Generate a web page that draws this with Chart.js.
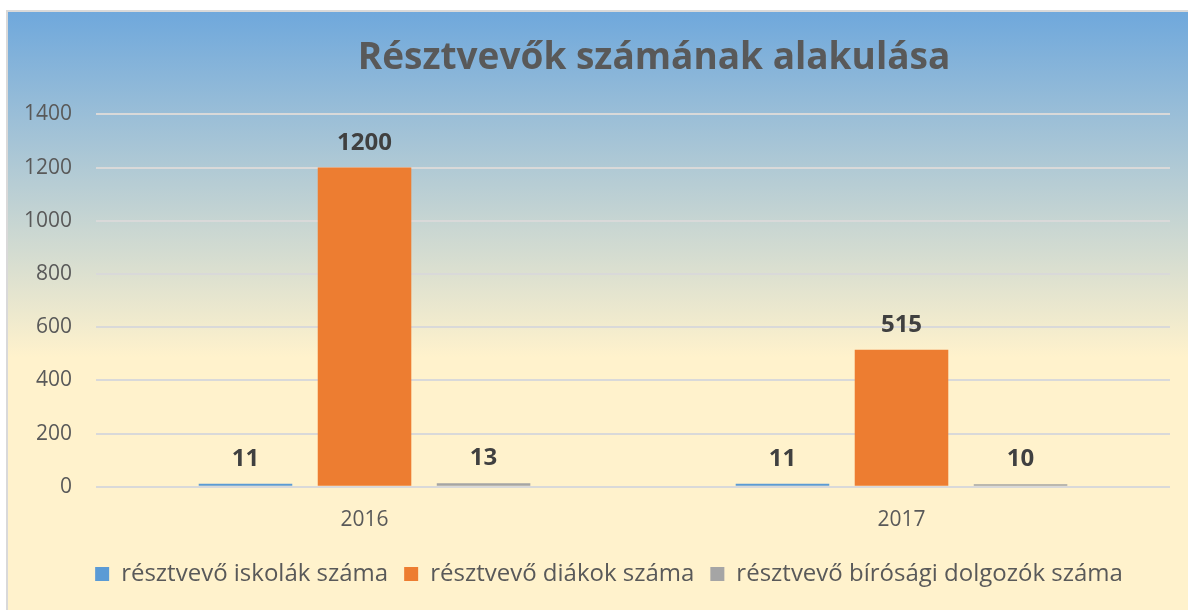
<!DOCTYPE html>
<html>
<head>
<meta charset="utf-8">
<script src="https://cdn.jsdelivr.net/npm/chart.js@4"></script>
<style>
  html, body { margin: 0; padding: 0; width: 1188px; height: 610px; overflow: hidden; background: #fff; }
  #frame {
    position: absolute; left: 6px; top: 10px; width: 1210px; height: 620px;
    border-left: 2px solid #d9d9d9; border-top: 2px solid #d9d9d9;
    background: linear-gradient(to bottom, #6fa8dc 0px, #fff2cc 345px, #fff2cc 100%);
  }
  #chartBox { position: absolute; left: -8px; top: 0; width: 1210px; height: 598px; }
</style>
</head>
<body>
<div id="frame">
  <div id="chartBox"><canvas id="participantsChart"></canvas></div>
</div>
<script>
var years = ['2016', '2017'];
var schools = [11, 11];
var students = [1200, 515];
var courtStaff = [13, 10];
var yTicks = [0, 200, 400, 600, 800, 1000, 1200, 1400];

var font = '"Open Sans", "DejaVu Sans", sans-serif';

// value labels above each bar
var barLabels = {
  id: 'barLabels',
  afterDatasetsDraw: function(chart) {
    var ctx = chart.ctx;
    ctx.save();
    ctx.font = 'bold 24px ' + font;
    ctx.fillStyle = '#404040';
    ctx.textAlign = 'center';
    ctx.textBaseline = 'alphabetic';
    chart.data.datasets.forEach(function(ds, i) {
      chart.getDatasetMeta(i).data.forEach(function(bar, j) {
        ctx.fillText(String(ds.data[j]), bar.x, bar.y - 18);
      });
    });
    ctx.restore();
  }
};

// title and legend are not centred on the plot: move them right a little
var blockNudge = {
  id: 'blockNudge',
  afterLayout: function(chart) {
    if (chart.titleBlock) chart.titleBlock.left += 138;
    if (chart.legend) chart.legend.left += 48;
  }
};

var ctx = document.getElementById('participantsChart').getContext('2d');
var chart = new Chart(ctx, {
    type: 'bar',
    data: {
        labels: years,
        datasets: [{
            label: 'résztvevő iskolák száma',
            backgroundColor: '#5b9bd5',
            data: schools
        }, {
            label: 'résztvevő diákok száma',
            backgroundColor: '#ed7d31',
            data: students
        }, {
            label: 'résztvevő bírósági dolgozók száma',
            backgroundColor: '#a5a5a5',
            data: courtStaff
        }]
    },
    options: {
      responsive: true,
      maintainAspectRatio: false,
      animation: false,
      datasets: {
        bar: { categoryPercentage: 0.665, barPercentage: 0.786 }
      },
      layout: {
        padding: { left: 0, right: 40, top: 0, bottom: 14 }
      },
      plugins: {
        title: {
          display: true,
          text: 'Résztvevők számának alakulása',
          color: '#595959',
          font: { family: font, size: 37, weight: 'bold' },
          padding: { top: 24, bottom: 34 }
        },
        legend: {
          position: 'bottom',
          labels: {
            color: '#595959',
            font: { family: font, size: 24 },
            boxWidth: 14,
            boxHeight: 14,
            padding: 16
          }
        },
        tooltip: { enabled: false }
      },
      scales: {
        x: {
          grid: { display: false },
          border: { display: false },
          ticks: { color: '#595959', font: { family: font, size: 21 }, padding: 13 }
        },
        y: {
          min: 0,
          max: 1400,
          afterBuildTicks: function(axis) {
            axis.ticks = yTicks.map(function(v) { return { value: v }; });
          },
          grid: { color: '#d9d9d9', lineWidth: 2, drawTicks: false },
          border: { display: false },
          ticks: {
            color: '#595959',
            font: { family: font, size: 21 },
            padding: 24,
            callback: function(v) { return String(v); }
          }
        }
      }
    },
    plugins: [barLabels, blockNudge]
});
</script>
</body>
</html>
